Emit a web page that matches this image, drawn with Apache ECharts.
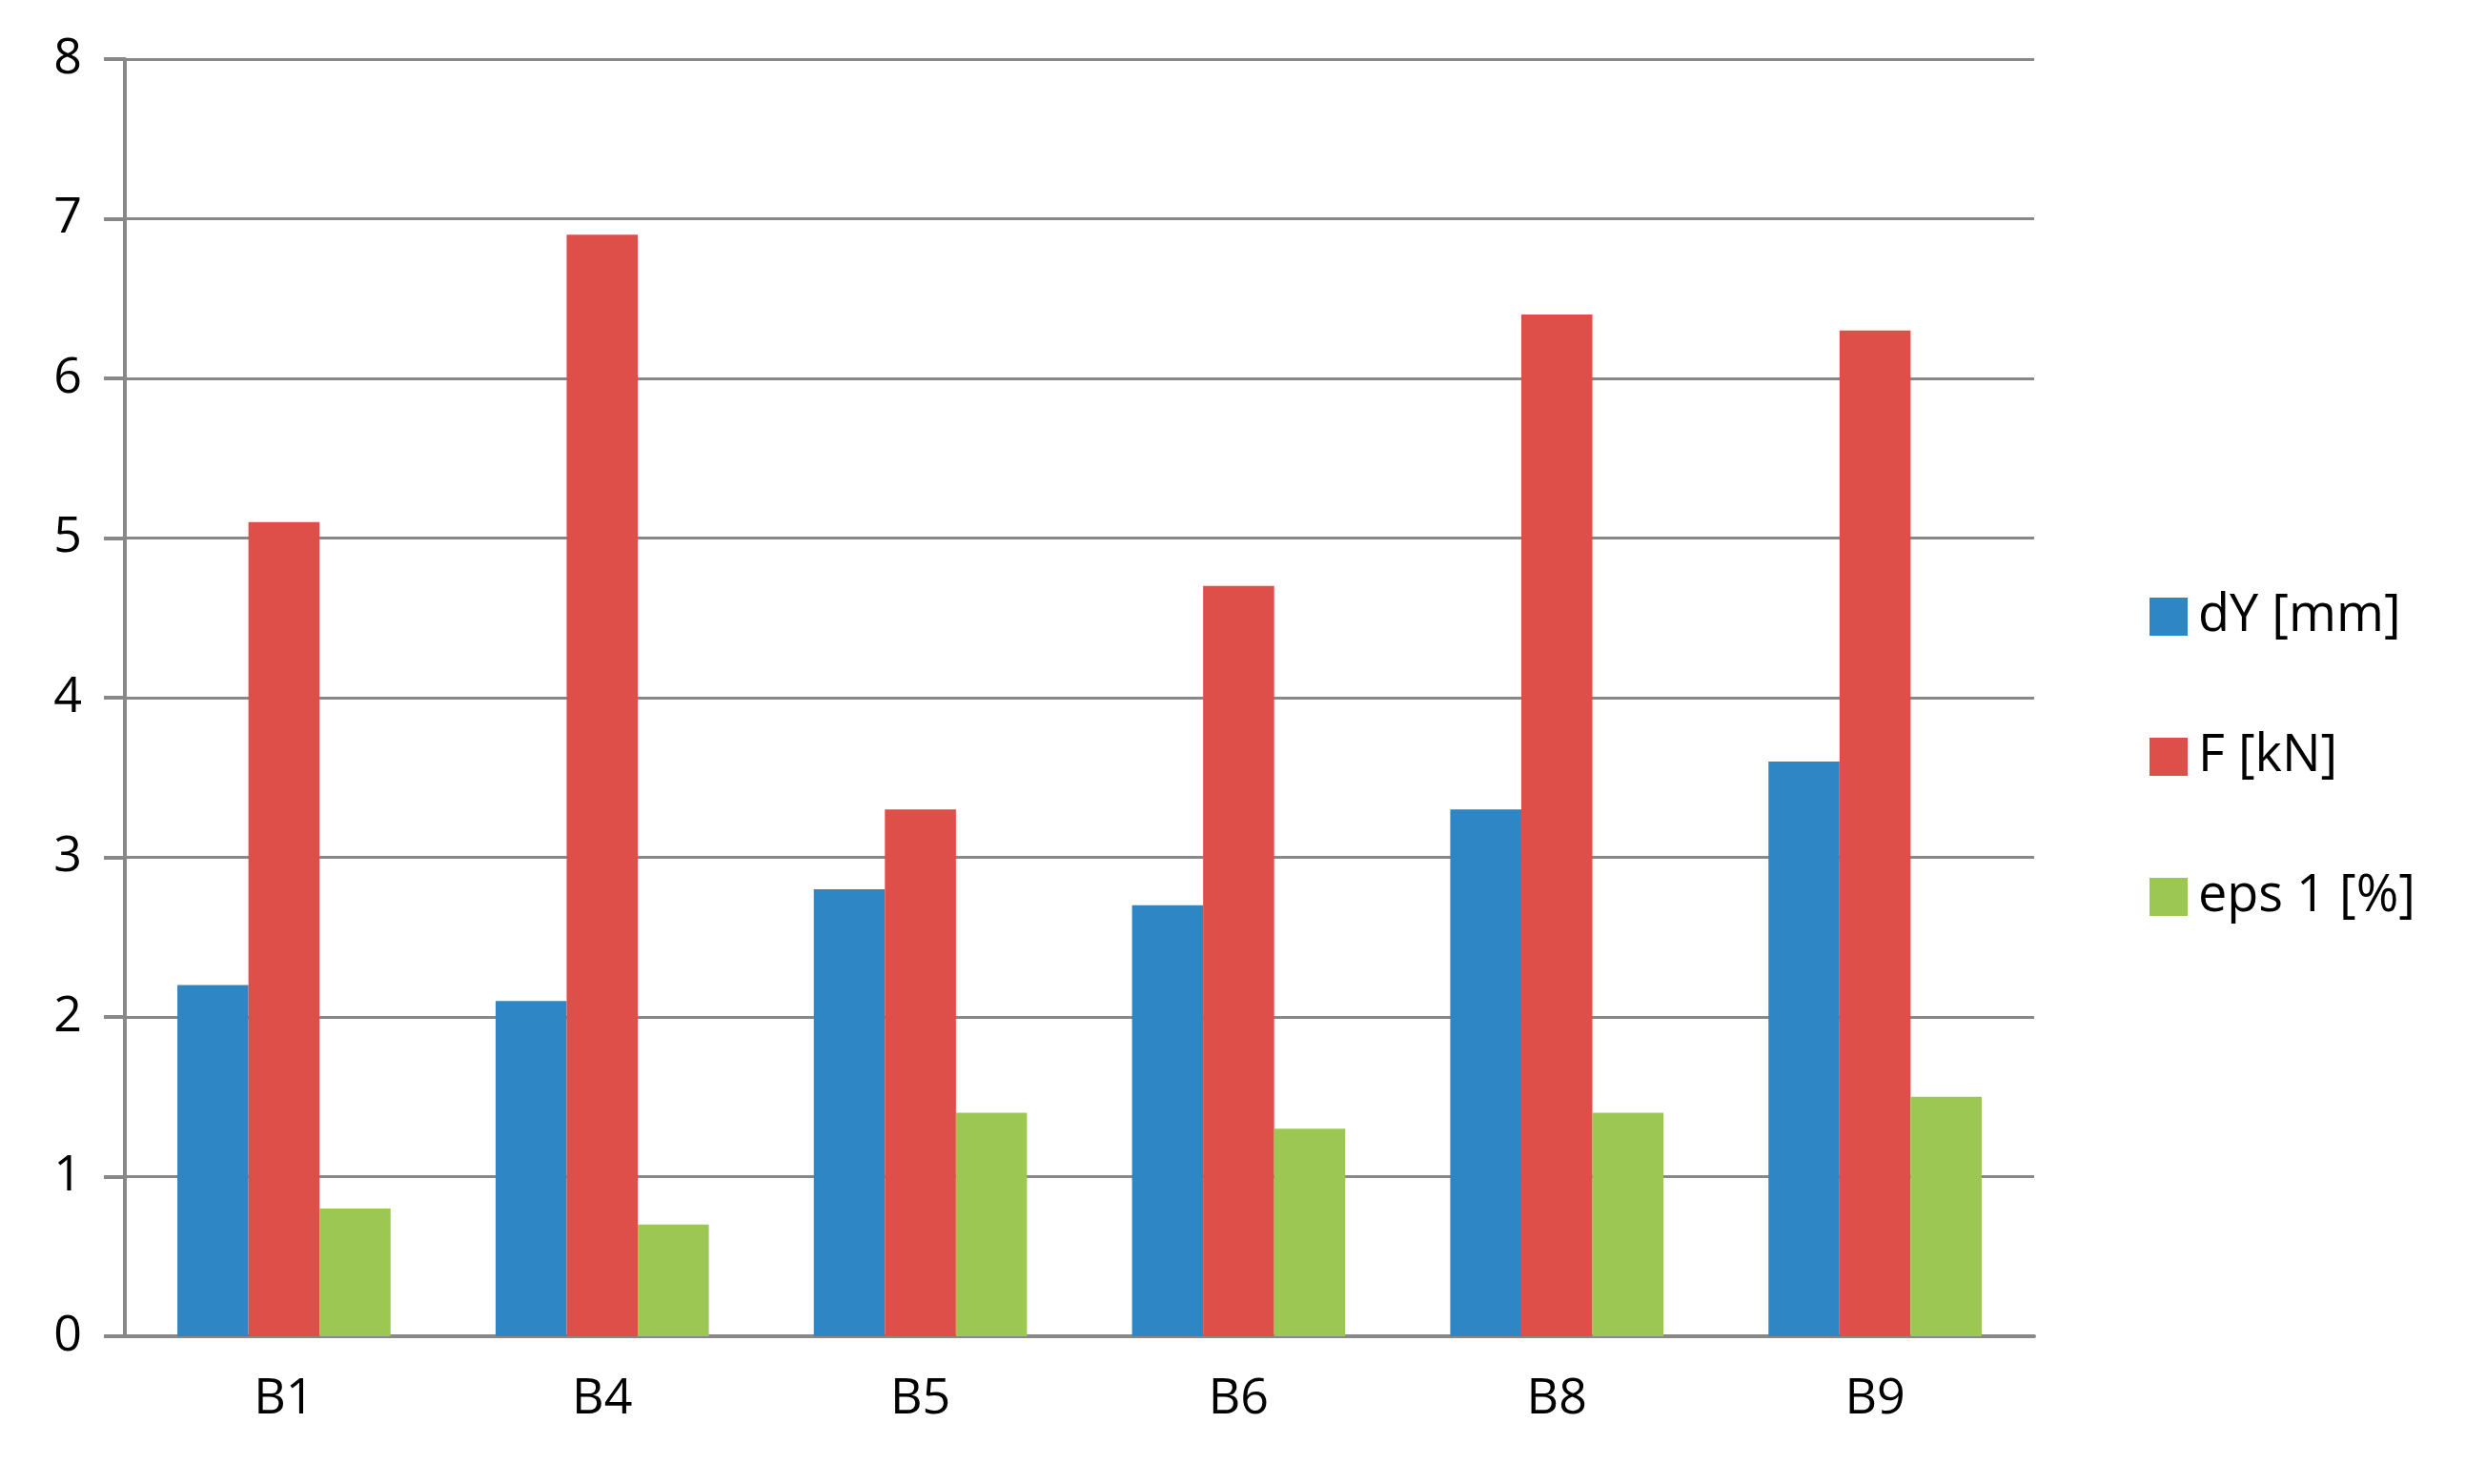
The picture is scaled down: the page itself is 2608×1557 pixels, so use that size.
<!DOCTYPE html>
<html><head><meta charset="utf-8">
<script src="https://cdn.jsdelivr.net/npm/echarts@6/dist/echarts.min.js"></script>
<style>html,body{margin:0;padding:0;background:#fff}#c{width:2608px;height:1557px}</style>
</head><body><div id="c"></div>
<script>
const categories = ['B1','B4','B5','B6','B8','B9'];
const dY = [2.2,2.1,2.8,2.7,3.3,3.6];
const F = [5.1,6.9,3.3,4.7,6.4,6.3];
const eps = [0.8,0.7,1.4,1.3,1.4,1.5];
const seriesNames = ['dY [mm]','F [kN]','eps 1 [%]'];
const colors = ['#2e86c5','#dd4f48','#9cc752'];
const chart = echarts.init(document.getElementById('c'));
const font = 'Open Sans, Liberation Sans, sans-serif';
chart.setOption({
  animation:false,
  grid:{left:131,right:474,top:62,bottom:155},
  legend:{orient:'vertical',left:2250,top:615,itemWidth:40,itemHeight:40,itemGap:93,icon:'rect',
    textStyle:{fontSize:54,fontFamily:font,color:'#000',padding:[0,0,0,6]},data:seriesNames},
  xAxis:{type:'category',data:categories,
    axisLine:{lineStyle:{color:'#888',width:4}},
    axisTick:{length:20,lineStyle:{color:'#888',width:4}},
    axisLabel:{fontSize:52,fontFamily:font,color:'#000',margin:40}},
  yAxis:{type:'value',min:0,max:8,interval:1,
    axisLine:{show:true,lineStyle:{color:'#888',width:4}},
    axisTick:{show:true,length:22,lineStyle:{color:'#888',width:4}},
    splitLine:{lineStyle:{color:'#888',width:3}},
    axisLabel:{fontSize:52,fontFamily:font,color:'#000',margin:45}},
  series:[dY,F,eps].map((d,i)=>({name:seriesNames[i],type:'bar',data:d,barGap:'0%',barCategoryGap:'33%',itemStyle:{color:colors[i]}}))
});
</script></body></html>
